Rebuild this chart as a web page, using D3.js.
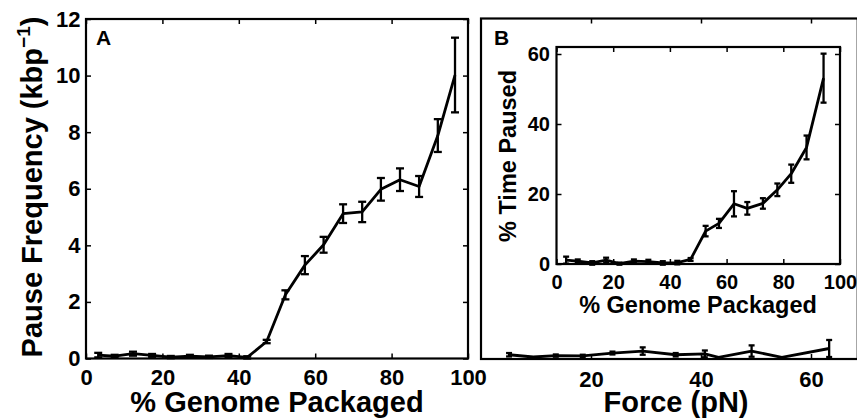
<!DOCTYPE html>
<html>
<head>
<meta charset="utf-8">
<script src="https://cdn.jsdelivr.net/npm/d3@7"></script>
<style>
  body { margin: 0; background: #fff; }
  text { font-family: "Liberation Sans", Arial, sans-serif; font-weight: bold; fill: #000; }
</style>
</head>
<body>
<svg id="chart" width="857" height="418"></svg>
<script>
// panel A: pause frequency vs % genome packaged
const pkgA = [3.2, 7.5, 12.3, 17.3, 22.2, 27.2, 32.2, 37.3, 42.2, 47.3, 52.2, 57.3, 62.2, 67.3, 72.3, 77.2, 82.2, 87.2, 92.1, 96.6];
const freqA = [0.12, 0.08, 0.17, 0.11, 0.05, 0.08, 0.06, 0.1, 0.04, 0.6, 2.25, 3.3, 4.02, 5.12, 5.18, 5.98, 6.32, 6.08, 7.88, 10.02];
const errA = [0.08, 0.05, 0.07, 0.05, 0.04, 0.05, 0.04, 0.06, 0.04, 0.06, 0.16, 0.32, 0.28, 0.33, 0.36, 0.4, 0.4, 0.37, 0.58, 1.32];

// panel B inset: % time paused vs % genome packaged
const pkgIn = [3.4, 7.5, 12.6, 17.5, 22.2, 27.3, 32.4, 37.5, 42.6, 47.3, 52.6, 57.3, 62.6, 67.3, 72.8, 77.9, 82.8, 88.2, 94.2];
const pausedIn = [1.1, 0.8, 0.3, 1.1, 0.1, 0.8, 0.7, 0.3, 0.4, 1.3, 9.4, 11.6, 17.2, 15.9, 17.3, 21.2, 25.8, 33.3, 53.1];
const errIn = [1.0, 0.5, 0.5, 0.7, 0.3, 0.5, 0.5, 0.5, 0.5, 0.4, 1.5, 1.3, 3.6, 1.8, 1.5, 1.8, 2.6, 3.4, 7.0];

// panel B: pause frequency vs force
const forceB = [5.1, 9.5, 13.6, 18.5, 23.9, 29.4, 35.4, 40.7, 43.2, 49.2, 54.7, 63.3];
const freqB = [0.15, 0.07, 0.12, 0.11, 0.21, 0.28, 0.15, 0.18, 0.06, 0.28, 0.06, 0.37];
const errB = [0.06, 0, 0.04, 0.04, 0.05, 0.13, 0.06, 0.12, 0, 0.2, 0, 0.3];

const ticksPkg = [0, 20, 40, 60, 80, 100];
const ticksFreq = [0, 2, 4, 6, 8, 10, 12];
const ticksPaused = [0, 20, 40, 60];
const ticksForce = [20, 40, 60];

const svg = d3.select("#chart");

// draws a frame with inward ticks on all four sides
let drawFrame = function (x, y, xt, yt, fs, padX, padY, showY) {
  const [x0, x1] = x.range();
  const [y0, y1] = y.range();
  let g = svg.append("g");
  let styleAxis = (a) => {
    a.select(".domain").remove();
    a.attr("font-size", fs + "px").attr("font-family", null);
    a.selectAll("line").attr("stroke", "#000").attr("stroke-width", 1.5);
  };
  g.append("g").attr("transform", `translate(0,${y0})`)
    .call(d3.axisBottom(x).tickValues(xt).tickSize(-5).tickPadding(padX).tickFormat(d3.format("d")))
    .call(styleAxis);
  g.append("g").attr("transform", `translate(0,${y1})`)
    .call(d3.axisTop(x).tickValues(xt).tickSize(-5).tickFormat(""))
    .call(styleAxis);
  if (showY) {
    g.append("g").attr("transform", `translate(${x0},0)`)
      .call(d3.axisLeft(y).tickValues(yt).tickSize(-5).tickPadding(padY).tickFormat(d3.format("d")))
      .call(styleAxis);
    g.append("g").attr("transform", `translate(${x1},0)`)
      .call(d3.axisRight(y).tickValues(yt).tickSize(-5).tickFormat(""))
      .call(styleAxis);
  }
  g.append("rect")
    .attr("x", x0).attr("y", y1)
    .attr("width", x1 - x0).attr("height", y0 - y1)
    .attr("fill", "none").attr("stroke", "#000").attr("stroke-width", 2.2);
  return g;
};

// line plus error bars
let drawSeries = function (x, y, xs, ys, es, cap) {
  const pts = xs.map((d, i) => ({ x: d, y: ys[i], e: es[i] }));
  let g = svg.append("g");
  g.append("path")
    .datum(pts)
    .attr("d", d3.line().x((d) => x(d.x)).y((d) => y(d.y)))
    .attr("fill", "none").attr("stroke", "#000").attr("stroke-width", 2.8)
    .attr("stroke-linejoin", "round");
  const bars = g.selectAll(".eb").data(pts.filter((d) => d.e > 0)).enter().append("g");
  bars.append("line")
    .attr("x1", (d) => x(d.x)).attr("x2", (d) => x(d.x))
    .attr("y1", (d) => y(d.y - d.e)).attr("y2", (d) => y(d.y + d.e));
  bars.append("line")
    .attr("x1", (d) => x(d.x) - cap).attr("x2", (d) => x(d.x) + cap)
    .attr("y1", (d) => y(d.y - d.e)).attr("y2", (d) => y(d.y - d.e));
  bars.append("line")
    .attr("x1", (d) => x(d.x) - cap).attr("x2", (d) => x(d.x) + cap)
    .attr("y1", (d) => y(d.y + d.e)).attr("y2", (d) => y(d.y + d.e));
  bars.selectAll("line").attr("stroke", "#000").attr("stroke-width", 2.3);
};

// ---- panel A
let xA = d3.scaleLinear().domain([0, 100]).range([86, 468]);
let yA = d3.scaleLinear().domain([0, 12]).range([358.5, 19]);
drawFrame(xA, yA, ticksPkg, ticksFreq, 22, 11, 5.5, true);
drawSeries(xA, yA, pkgA, freqA, errA, 4);

svg.append("text").attr("x", 96).attr("y", 45).attr("font-size", "21px").text("A");
svg.append("text").attr("x", 277).attr("y", 412).attr("text-anchor", "middle")
  .attr("font-size", "29px").text("% Genome Packaged");
let ylab = svg.append("text")
  .attr("transform", "translate(42,187) rotate(-90)")
  .attr("text-anchor", "middle").attr("font-size", "29px");
ylab.append("tspan").text("Pause Frequency (kbp");
ylab.append("tspan").attr("font-size", "19px").attr("dy", -12).text("\u22121");
ylab.append("tspan").attr("dy", 12).text(")");

// ---- panel B (force)
let xB = d3.scaleLinear().domain([0, 68.5]).range([481, 857.75]);
let yB = d3.scaleLinear().domain([0, 12]).range([359, 18.5]);
drawFrame(xB, yB, ticksForce, [], 22, 12, 0, false);
drawSeries(xB, yB, forceB, freqB, errB, 3);

svg.append("text").attr("x", 494).attr("y", 45).attr("font-size", "21px").text("B");
svg.append("text").attr("x", 676).attr("y", 412).attr("text-anchor", "middle")
  .attr("font-size", "29px").text("Force (pN)");

// ---- panel B inset
let xI = d3.scaleLinear().domain([0, 100]).range([556.5, 840]);
let yI = d3.scaleLinear().domain([0, 62]).range([264, 47]);
svg.append("rect").attr("x", 556.5).attr("y", 47).attr("width", 283.5).attr("height", 217).attr("fill", "#fff");
drawFrame(xI, yI, ticksPkg, ticksPaused, 20, 11, 6.5, true);
drawSeries(xI, yI, pkgIn, pausedIn, errIn, 3);

svg.append("text").attr("x", 698).attr("y", 313).attr("text-anchor", "middle")
  .attr("font-size", "23.5px").text("% Genome Packaged");
svg.append("text").attr("transform", "translate(516,156) rotate(-90)")
  .attr("text-anchor", "middle").attr("font-size", "23.5px").text("% Time Paused");
</script>
</body>
</html>
